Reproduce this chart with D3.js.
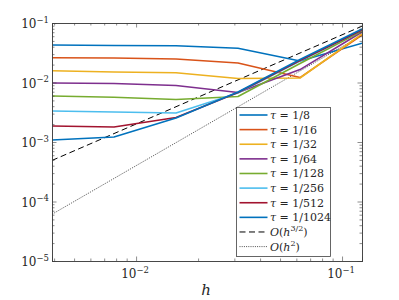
<!DOCTYPE html>
<html>
<head>
<meta charset="utf-8">
<script src="https://cdn.jsdelivr.net/npm/d3@7"></script>
<style>
  body { margin: 0; background: #fff; }
  svg { display: block; }
</style>
</head>
<body>
<svg id="chart" width="399" height="300"></svg>
<script>
// mesh sizes h
var hVals = [1/256, 1/128, 1/64, 1/32, 1/16, 1/8];

// error for each time step tau
var errTau8    = [0.0427, 0.0419, 0.0415, 0.0376, 0.0230, 0.0456];
var errTau16   = [0.0261, 0.0258, 0.0248, 0.0213, 0.0121, 0.0629];
var errTau32   = [0.0158, 0.0150, 0.0146, 0.0117, 0.0119, 0.0653];
var errTau64   = [0.00981, 0.00962, 0.00890, 0.00679, 0.0165, 0.0706];
var errTau128  = [0.00593, 0.00564, 0.00518, 0.00582, 0.0209, 0.0733];
var errTau256  = [0.00332, 0.00319, 0.00307, 0.00666, 0.0230, 0.0763];
var errTau512  = [0.00186, 0.00179, 0.00258, 0.00679, 0.0234, 0.0763];
var errTau1024 = [0.00108, 0.00121, 0.00253, 0.00692, 0.0244, 0.0793];

var tauLabels = ["1/8", "1/16", "1/32", "1/64", "1/128", "1/256", "1/512", "1/1024"];
var colors = ["#0072BD", "#D95319", "#EDB120", "#7E2F8E", "#77AC30", "#4DBEEE", "#A2142F", "#0072BD"];

// reference slopes (end points)
var refH = [1/256, 1/8];
var refOrder32 = [4.9e-4, 0.0884];
var refOrder2 = [6.1e-5, 0.0625];

var yMajor = [1e-5, 1e-4, 1e-3, 1e-2, 1e-1];
var yExp = ["-5", "-4", "-3", "-2", "-1"];
var xMajor = [1e-2, 1e-1];
var xExp = ["-2", "-1"];

var series = [errTau8, errTau16, errTau32, errTau64, errTau128, errTau256, errTau512, errTau1024];

var FONT = "DejaVu Serif";
var L = 52, R = 362, T = 23, B = 261;
var svg = d3.select("#chart");

var x = d3.scaleLog().domain([1/256, 1/8]).range([L, R]);
var y = d3.scaleLog().domain([1e-5, 1e-1]).range([B, T]);

function minors(lo, hi) {
    var out = [];
    for (var e = Math.floor(Math.log10(lo)); e <= Math.ceil(Math.log10(hi)); e++)
        for (var k = 2; k <= 9; k++) {
            var v = k * Math.pow(10, e);
            if (v > lo * 1.0001 && v < hi * 0.9999) out.push(v);
        }
    return out;
}
var xMinor = minors(1/256, 1/8);
var yMinor = minors(1e-5, 1e-1);

var plot = svg.append("g");
plot.append("clipPath").attr("id", "clip")
    .append("rect").attr("x", L).attr("y", T).attr("width", R - L).attr("height", B - T);

var line = d3.line()
    .x(function (d) { return x(d[0]); })
    .y(function (d) { return y(d[1]); });

var lines = plot.append("g").attr("clip-path", "url(#clip)");

lines.append("path")
    .datum(d3.zip(refH, refOrder32))
    .attr("d", line)
    .attr("fill", "none")
    .attr("stroke", "#000")
    .attr("stroke-width", 1)
    .attr("stroke-dasharray", "6,3.5");

lines.append("path")
    .datum(d3.zip(refH, refOrder2))
    .attr("d", line)
    .attr("fill", "none")
    .attr("stroke", "#000")
    .attr("stroke-width", 0.7)
    .attr("stroke-dasharray", "1,1.2");

series.forEach(function (s, i) {
    lines.append("path")
        .datum(d3.zip(hVals, s))
        .attr("d", line)
        .attr("fill", "none")
        .attr("stroke", colors[i])
        .attr("stroke-width", 1.6)
        .attr("stroke-linejoin", "round");
});

// axes: ticks point inward, mirrored on the box
var axisColor = "#404040";
function drawAxis(axisFn, scale, translate, major, minor) {
    var gMaj = svg.append("g").attr("transform", translate)
        .call(axisFn(scale).tickValues(major).tickSize(-4.5).tickFormat(""));
    var gMin = svg.append("g").attr("transform", translate)
        .call(axisFn(scale).tickValues(minor).tickSize(-2.5).tickFormat(""));
    [gMaj, gMin].forEach(function (g) {
        g.selectAll("line").attr("stroke", axisColor).attr("stroke-width", 0.6);
        g.select(".domain").attr("stroke", axisColor).attr("stroke-width", 0.8);
    });
}
drawAxis(d3.axisBottom, x, "translate(0," + B + ")", xMajor, xMinor);
drawAxis(d3.axisTop, x, "translate(0," + T + ")", xMajor, xMinor);
drawAxis(d3.axisLeft, y, "translate(" + L + ",0)", yMajor, yMinor);
drawAxis(d3.axisRight, y, "translate(" + R + ",0)", yMajor, yMinor);

function newText(g, px, py, size) {
    return g.append("text")
        .attr("x", px).attr("y", py)
        .style("font-family", FONT)
        .style("font-size", size + "px")
        .attr("fill", "#262626");
}

// tick labels as 10^k
function powLabel(g, px, py, exp, anchor) {
    var t = newText(g, px, py, 12).attr("text-anchor", anchor);
    t.append("tspan").text("10");
    t.append("tspan").text("\u2212" + exp.replace("-", ""))
        .attr("dy", -5.5).style("font-size", "8.5px");
}
var labels = svg.append("g");
yMajor.forEach(function (v, i) {
    powLabel(labels, L - 3, y(v) + 5, yExp[i], "end");
});
xMajor.forEach(function (v, i) {
    powLabel(labels, x(v) - 1, B + 17, xExp[i], "middle");
});

newText(svg, 206, 295, 15)
    .attr("text-anchor", "middle")
    .style("font-style", "italic")
    .text("h");

// legend
var lg = svg.append("g");
lg.append("rect")
    .attr("x", 236.5).attr("y", 107.5).attr("width", 94).attr("height", 149)
    .attr("fill", "#fff").attr("stroke", axisColor).attr("stroke-width", 0.8);

var rowY = d3.scaleLinear().domain([0, 9]).range([115, 246.6]);
tauLabels.forEach(function (lab, i) {
    var yy = rowY(i);
    lg.append("line").attr("x1", 239.5).attr("x2", 267.5).attr("y1", yy).attr("y2", yy)
        .attr("stroke", colors[i]).attr("stroke-width", 1.6);
    var t = newText(lg, 270, yy + 4, 11);
    t.append("tspan").style("font-style", "italic").text("\u03c4");
    t.append("tspan").text(" = " + lab);
});

var y9 = rowY(8), y10 = rowY(9);
lg.append("line").attr("x1", 239.5).attr("x2", 267.5).attr("y1", y9).attr("y2", y9)
    .attr("stroke", "#000").attr("stroke-width", 1).attr("stroke-dasharray", "6,3.5");
lg.append("line").attr("x1", 239.5).attr("x2", 267.5).attr("y1", y10).attr("y2", y10)
    .attr("stroke", "#000").attr("stroke-width", 0.7).attr("stroke-dasharray", "1,1.2");

function orderLabel(yy, sup) {
    var t = newText(lg, 270, yy + 4, 11);
    t.append("tspan").style("font-style", "italic").text("O");
    t.append("tspan").text("(");
    t.append("tspan").style("font-style", "italic").text("h");
    t.append("tspan").attr("dy", -5).style("font-size", "8px").text(sup);
    t.append("tspan").attr("dy", 5).text(")");
}
orderLabel(y9, "3/2");
orderLabel(y10, "2");
</script>
</body>
</html>
